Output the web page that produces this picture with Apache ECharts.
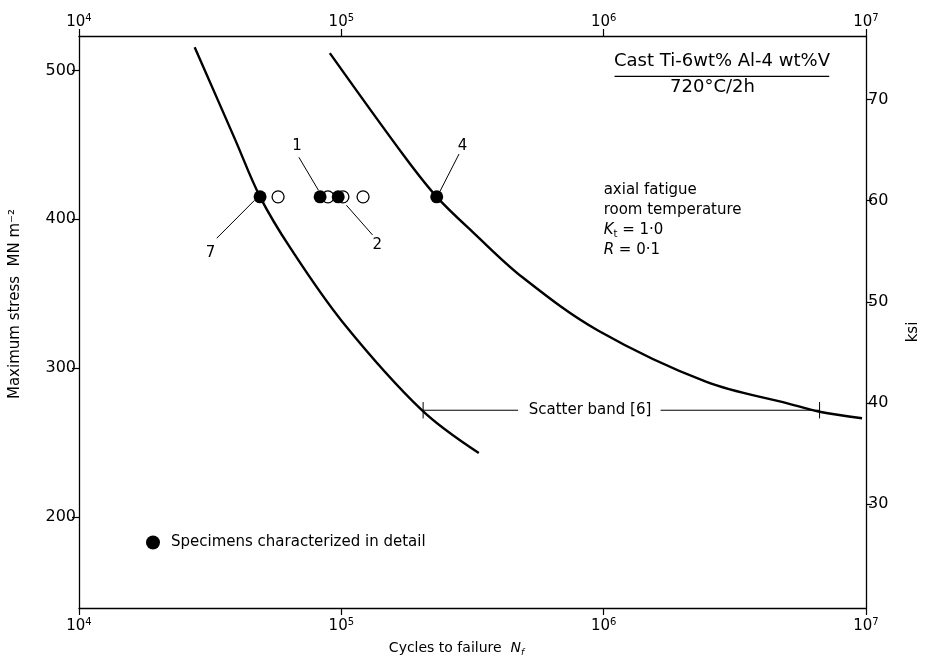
<!DOCTYPE html>
<html><head><meta charset="utf-8">
<script src="https://cdn.jsdelivr.net/npm/echarts@6/dist/echarts.min.js"></script>
<style>html,body{margin:0;padding:0;background:#fff}#c{width:929px;height:662px}</style>
</head><body><div id="c"></div>
<script>
// ---- data ----
const cycleTicks = [1e4, 1e5, 1e6, 1e7];
const stressTicks = [200, 300, 400, 500];
const ksiTicks = [30, 40, 50, 60, 70];

const shortCurveN = [27600, 39300, 49000, 64000, 101400, 202300, 334200];
const shortCurveS = [515.6, 453.8, 415, 380.5, 330.6, 271.8, 242.8];
const longCurveN = [90400, 175000, 231000, 320700, 493000, 955000, 2466000, 5058000, 6653000, 9660000];
const longCurveS = [511.6, 441.6, 415, 390.5, 360.6, 325.0, 290.6, 276.1, 270.6, 266.2];

const filledN = [49000, 83000, 97300, 231000];
const filledS = [415, 415, 415, 415];
const openN = [57400, 88900, 101400, 121000];
const openS = [415, 415, 415, 415];

const bandN = [205000, 472000, 1648000, 6653000];
const bandS = 271.6;
const bandTickHalf = 5.5;

const leaderN = [[68900, 81800], [104500, 131500], [33500, 46700], [281000, 237000]];
const leaderS = [[441.6, 419.4], [409.4, 389.4], [387.2, 412.7], [443.8, 418.3]];
const leaderText = ['1', '2', '7', '4'];
const leaderTextN = [67800, 137000, 31700, 290000];
const leaderTextS = [449.2, 382.7, 377.2, 449.4];

const titleBarN = [1.10e6, 7.24e6];
const titleBarS = 496.0;
const noteTitle = ['Cast Ti-6wt% Al-4 wt%V', '720°C/2h'];
const noteTitleN = [2.825e6, 2.6e6];
const noteTitleS = [505.8, 488.3];
const condText = ['axial fatigue', 'room temperature', '{i|K}{sub|t} = 1·0', '{i|R} = 0·1'];
const condN = [1.0e6, 1.0e6, 1.0e6, 1.0e6];
const condS = [419.2, 405.9, 392.5, 379.2];
const bandText = 'Scatter band [6]';
const bandTextN = 887000;

// ---- chart ----
const FONT = 'DejaVu Sans';
const black = '#000';
const chart = echarts.init(document.getElementById('c'));
const zip = (a, b) => a.map((v, i) => [v, b[i]]);

const segs = [];
leaderN.forEach((n, i) => segs.push({ d: zip(n, leaderS[i]), w: 1 }));
segs.push({ d: [[bandN[0], bandS], [bandN[1], bandS]], w: 1 });
segs.push({ d: [[bandN[2], bandS], [bandN[3], bandS]], w: 1 });
segs.push({ d: [[bandN[0], bandS - bandTickHalf], [bandN[0], bandS + bandTickHalf]], w: 1 });
segs.push({ d: [[bandN[3], bandS - bandTickHalf], [bandN[3], bandS + bandTickHalf]], w: 1 });
segs.push({ d: [[titleBarN[0], titleBarS], [titleBarN[1], titleBarS]], w: 1.2 });

const segSeries = segs.map(s => ({
  type: 'line', data: s.d, symbol: 'none', silent: true, z: 3,
  lineStyle: { color: black, width: s.w }
}));

const notes = [];
leaderText.forEach((t, i) => notes.push({ value: [leaderTextN[i], leaderTextS[i]], label: { formatter: t, align: 'center' } }));
noteTitle.forEach((t, i) => notes.push({ value: [noteTitleN[i], noteTitleS[i]], label: { formatter: t, align: 'center', fontSize: 18 } }));
condText.forEach((t, i) => notes.push({ value: [condN[i], condS[i]], label: { formatter: t, align: 'left' } }));
notes.push({ value: [bandTextN, bandS], label: { formatter: bandText, align: 'center' } });

const logLabel = v => '{b|10}{s|' + Math.round(Math.log10(v)) + '}';
const logRich = { b: { fontSize: 15, fontFamily: FONT, color: black }, s: { fontSize: 10, fontFamily: FONT, color: black, padding: [0, 0, 9, 0] } };

const xCommon = {
  type: 'log', logBase: 10, min: cycleTicks[0], max: cycleTicks[cycleTicks.length - 1],
  splitLine: { show: false },
  axisLine: { lineStyle: { color: black, width: 1.3 } },
  axisTick: { show: true, length: 7, inside: false, lineStyle: { color: black, width: 1.2 } },
  minorTick: { show: false },
  axisLabel: { formatter: logLabel, rich: logRich, color: black }
};

const option = {
  animation: false,
  backgroundColor: '#fff',
  textStyle: { fontFamily: FONT, color: black },
  grid: { left: 78, right: 50, top: 36, bottom: 49, containLabel: false },
  legend: {
    data: ['Specimens characterized in detail'], left: 141, top: 530,
    icon: 'circle', itemWidth: 14, itemHeight: 14, selectedMode: false,
    textStyle: { fontSize: 15, fontFamily: FONT, color: black, padding: [0, 0, 0, 6] }
  },
  xAxis: [
    Object.assign({}, xCommon, {
      position: 'bottom',
      name: '{a|Cycles to failure  }{i|N}{sub|f}', nameLocation: 'middle', nameGap: 32,
      nameTextStyle: { padding: [0, 32, 0, 0], rich: {
        a: { fontSize: 14, fontFamily: FONT, color: black },
        i: { fontSize: 14, fontFamily: FONT, fontStyle: 'italic', color: black },
        sub: { fontSize: 9, fontFamily: FONT, fontStyle: 'italic', color: black, padding: [8, 0, 0, 0] } } },
      axisLabel: { formatter: logLabel, rich: logRich, color: black, margin: 9 }
    }),
    Object.assign({}, xCommon, { position: 'top', axisLabel: { formatter: logLabel, rich: logRich, color: black, margin: 4 } })
  ],
  yAxis: [
    {
      type: 'value', position: 'left', min: 138.7, max: 523.1,
      name: 'Maximum stress  MN m⁻²', nameLocation: 'middle', nameGap: 56, nameRotate: 90,
      nameTextStyle: { fontSize: 15, fontFamily: FONT, color: black, padding: [0, 0, 0, 36] },
      splitLine: { show: false },
      axisLine: { show: true, lineStyle: { color: black, width: 1.3 } },
      axisTick: { show: true, length: 7, customValues: stressTicks, lineStyle: { color: black, width: 1.2 } },
      axisLabel: { customValues: stressTicks, fontSize: 16, fontFamily: FONT, color: black, margin: 3 }
    },
    {
      type: 'value', position: 'right', min: 19.7, max: 76.3,
      name: 'ksi', nameLocation: 'middle', nameGap: 40, nameRotate: 90,
      nameTextStyle: { fontSize: 15, fontFamily: FONT, color: black, padding: [0, 20, 0, 0] },
      splitLine: { show: false },
      axisLine: { show: true, lineStyle: { color: black, width: 1.3 } },
      axisTick: { show: true, length: 6, customValues: ksiTicks, lineStyle: { color: black, width: 1.2 } },
      axisLabel: { customValues: ksiTicks, fontSize: 16, fontFamily: FONT, color: black, margin: 2 }
    }
  ],
  series: [
    { type: 'line', name: 'short', data: zip(shortCurveN, shortCurveS), smooth: 0.35, symbol: 'none', silent: true,
      lineStyle: { color: black, width: 2.4 }, z: 4 },
    { type: 'line', name: 'long', data: zip(longCurveN, longCurveS), smooth: 0.35, symbol: 'none', silent: true,
      lineStyle: { color: black, width: 2.4 }, z: 4 },
    ...segSeries,
    { type: 'scatter', name: 'open', data: zip(openN, openS), symbol: 'circle', symbolSize: 12, z: 5,
      itemStyle: { color: '#fff', borderColor: black, borderWidth: 1.3, opacity: 1 } },
    { type: 'scatter', name: 'Specimens characterized in detail', data: zip(filledN, filledS), symbol: 'circle', symbolSize: 13, z: 6,
      itemStyle: { color: black, opacity: 1 } },
    { type: 'scatter', name: 'notes', data: notes, symbolSize: 0, silent: true, z: 7,
      itemStyle: { opacity: 1 },
      label: { show: true, position: [0, 0], verticalAlign: 'middle', fontSize: 15, fontFamily: FONT, color: black,
        rich: { i: { fontStyle: 'italic', fontSize: 15, fontFamily: FONT, color: black },
                sub: { fontSize: 10, fontFamily: FONT, color: black, padding: [8, 0, 0, 0] } } } }
  ]
};
chart.setOption(option);
</script></body></html>
